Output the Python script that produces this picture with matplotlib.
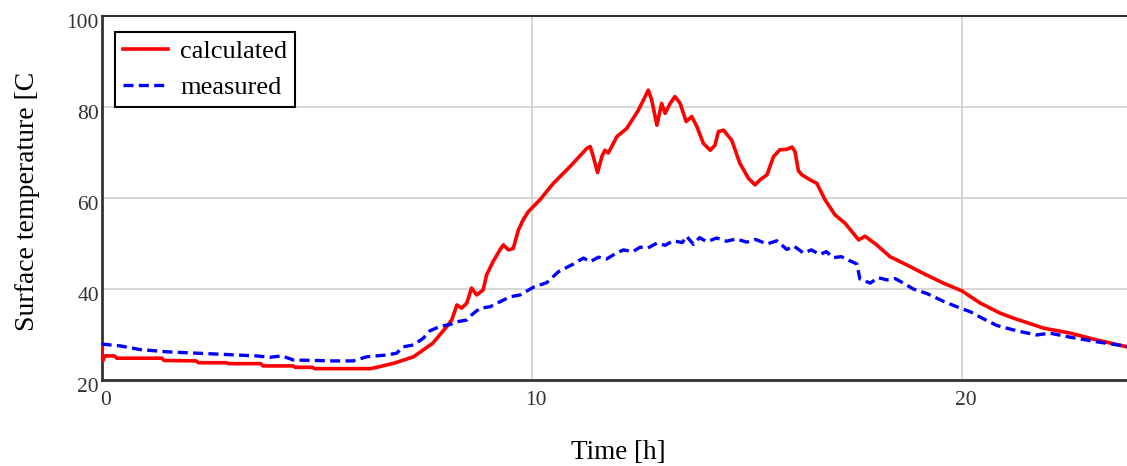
import matplotlib
matplotlib.use('Agg')
import matplotlib.pyplot as plt
from matplotlib.transforms import ScaledTranslation

# calculated surface temperature
calc_t = [0, 0.02, 0.08, 0.3, 0.35, 1.4, 1.45, 2.2, 2.25, 2.9, 2.95, 3.7, 3.75, 4.45, 4.5,
          4.9, 4.95, 6.25, 6.4, 6.8, 7.25, 7.7, 8.02, 8.14, 8.26, 8.37, 8.49, 8.6, 8.72,
          8.87, 8.95, 9.1, 9.26, 9.34, 9.46, 9.57, 9.69, 9.8, 9.92, 10.19, 10.5, 10.89,
          11.28, 11.36, 11.43, 11.53, 11.63, 11.7, 11.78, 11.98, 12.21, 12.48, 12.71,
          12.79, 12.91, 13.02, 13.1, 13.22, 13.33, 13.45, 13.59, 13.72, 13.84, 13.99,
          14.15, 14.26, 14.34, 14.46, 14.65, 14.84, 15.04, 15.19, 15.31, 15.47, 15.62,
          15.77, 15.93, 16.05, 16.12, 16.2, 16.28, 16.47, 16.63, 16.82, 17.05, 17.29,
          17.6, 17.75, 18.02, 18.33, 18.72, 19.11, 19.57, 20.0, 20.43, 20.89, 21.2,
          21.9, 22.52, 23.14, 23.84]
calc_T = [27.0, 24.2, 25.3, 25.3, 24.8, 24.8, 24.3, 24.2, 23.8, 23.8, 23.6, 23.6, 23.1, 23.1, 22.8,
          22.8, 22.5, 22.5, 22.8, 23.7, 25.1, 28.1, 31.7, 33.2, 36.5, 35.8, 36.9, 40.2, 38.7,
          39.8, 43.1, 46.0, 48.6, 49.7, 48.6, 48.9, 53.0, 55.2, 57.0, 59.6, 63.2, 66.9,
          70.9, 71.3, 69.1, 65.6, 69.1, 70.5, 69.9, 73.5, 75.3, 79.3, 83.7,
          81.5, 76.0, 80.8, 78.6, 80.8, 82.3, 80.8, 76.8, 77.9, 75.7, 72.0,
          70.5, 71.6, 74.6, 74.9, 72.7, 67.6, 64.3, 62.9, 64.0, 65.1, 69.1,
          70.6, 70.7, 71.2, 70.2, 66.0, 65.1, 64.0, 63.2, 59.6, 56.3, 54.4,
          50.8, 51.6, 49.7, 47.1, 45.3, 43.4, 41.3, 39.6, 36.9, 34.7, 33.6,
          31.4, 30.3, 28.8, 27.3]

# measured surface temperature
meas_t = [0, 0.43, 0.89, 1.51, 2.21, 2.91, 3.6, 3.91, 4.19, 4.46, 5.39, 5.85, 6.16, 6.63, 6.86,
          7.01, 7.25, 7.48, 7.63, 7.87, 8.1, 8.26, 8.49, 8.6, 8.8, 9.03, 9.26, 9.5, 9.73,
          10.04, 10.35, 10.62, 10.97, 11.2, 11.36, 11.55, 11.74, 11.95, 12.13, 12.35, 12.52,
          12.7, 12.91, 13.1, 13.29, 13.5, 13.6, 13.76, 13.9, 14.07, 14.3, 14.53, 14.75, 15.0,
          15.2, 15.47, 15.7, 15.93, 16.1, 16.32, 16.5, 16.7, 16.85, 17.01, 17.2, 17.4, 17.56,
          17.63, 17.87, 18.05, 18.26, 18.45, 18.64, 18.87, 19.19, 19.57, 19.96, 20.2, 20.43,
          20.81, 21.28, 21.74, 22.05, 22.52, 23.14, 23.84]
meas_T = [27.9, 27.5, 26.7, 26.2, 25.9, 25.6, 25.3, 25.0, 25.3, 24.4, 24.2, 24.2, 25.1, 25.5, 25.9,
          27.3, 27.7, 29.2, 30.8, 31.8, 32.2, 32.8, 33.2, 34.3, 35.8, 36.1, 37.2, 38.3, 38.7,
          40.4, 41.4, 43.8, 45.5, 46.8, 46.0, 47.0, 46.6, 47.8, 48.6, 48.2, 49.2,
          49.0, 50.1, 49.6, 50.6, 50.2, 51.6, 49.8, 51.3, 50.4, 51.2, 50.5, 51.0, 50.3,
          50.9, 49.9, 50.6, 48.7, 49.4, 47.9, 48.6, 47.6, 48.2, 46.9, 47.1, 46.2, 45.5,
          42.2, 41.3, 42.5, 42.0, 42.3, 41.3, 40.0, 39.0, 37.3, 35.8, 35.0, 33.8,
          32.0, 30.8, 29.9, 30.3, 29.4, 28.4, 27.4]

plt.rcParams['font.family'] = ['Liberation Serif', 'DejaVu Serif']

fig = plt.figure(figsize=(11.27, 4.66), dpi=100)
ax = fig.add_axes([0.0902, 0.1845, 0.9098, 0.7812])

ax.plot(calc_t, calc_T, color='#ff0000', lw=2.6, label='calculated', zorder=3)
ax.plot(meas_t, meas_T, color='#0000ff', lw=2.4, ls=(0, (3, 1.6)), label='measured', zorder=3)

ax.set_xlim(0, 23.84)
ax.set_ylim(20, 100)
ax.set_xticks([0, 10, 20])
ax.set_yticks([20, 40, 60, 80, 100])
ax.grid(True, color='#d0d0d0', lw=1.2)
ax.set_axisbelow(True)

for s in ['left', 'bottom']:
    ax.spines[s].set_linewidth(2)
    ax.spines[s].set_color('#333333')
ax.spines['top'].set_linewidth(1.5)
ax.spines['top'].set_color('#333333')
ax.spines['right'].set_visible(False)

ax.tick_params(length=0, labelsize=15.5, labelcolor='#333333')
ax.tick_params(axis='y', pad=2)
ax.tick_params(axis='x', pad=8)
for lbl in ax.get_yticklabels():
    lbl.set_transform(lbl.get_transform() + ScaledTranslation(0, -0.05, fig.dpi_scale_trans))
for lbl in ax.get_xticklabels():
    lbl.set_transform(lbl.get_transform() + ScaledTranslation(0.04, 0, fig.dpi_scale_trans))

fig.text(0.024, 0.567, 'Surface temperature [C', rotation=90, ha='center', va='center', fontsize=20)
fig.text(0.549, 0.028, 'Time [h]', ha='center', va='center', fontsize=19.5)

leg = ax.legend(loc='upper left', bbox_to_anchor=(0.0135, 0.956), fontsize=19,
                fancybox=False, framealpha=1, edgecolor='black', handlelength=1.7,
                handletextpad=0.45, borderpad=0.3, labelspacing=0.45, borderaxespad=0)
leg.get_frame().set_linewidth(1.5)

fig.savefig('out.png', dpi=100)
